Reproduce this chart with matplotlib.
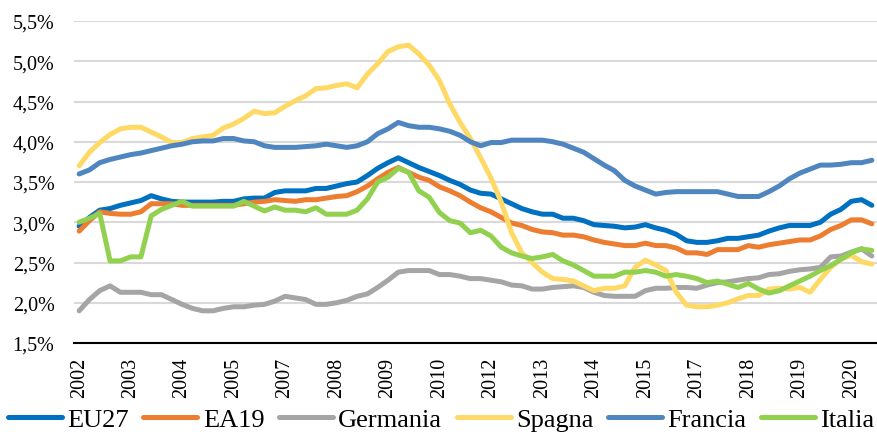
import matplotlib
matplotlib.use("Agg")
import matplotlib.pyplot as plt

plt.rcParams['font.family'] = ['Liberation Serif', 'DejaVu Serif']

# trimestrale 2002Q1 - 2021Q2
eu27 = [2.95, 3.06, 3.15, 3.17, 3.21, 3.24, 3.27, 3.33, 3.29, 3.26, 3.25, 3.25, 3.25, 3.25, 3.26, 3.26, 3.29, 3.30, 3.30, 3.37,
        3.39, 3.39, 3.39, 3.42, 3.42, 3.45, 3.48, 3.50, 3.58, 3.67, 3.74, 3.80, 3.74, 3.68, 3.63, 3.58, 3.52, 3.47, 3.40, 3.36,
        3.35, 3.29, 3.23, 3.17, 3.13, 3.10, 3.10, 3.05, 3.05, 3.02, 2.97, 2.96, 2.95, 2.93, 2.94, 2.97, 2.93, 2.90, 2.85, 2.77,
        2.75, 2.75, 2.77, 2.80, 2.80, 2.82, 2.84, 2.89, 2.93, 2.96, 2.96, 2.96, 3.00, 3.10, 3.16, 3.26, 3.28, 3.21]
ea19 = [2.89, 3.02, 3.13, 3.11, 3.10, 3.10, 3.13, 3.23, 3.23, 3.23, 3.21, 3.21, 3.21, 3.21, 3.21, 3.21, 3.23, 3.25, 3.26, 3.28,
        3.27, 3.26, 3.28, 3.28, 3.30, 3.32, 3.33, 3.38, 3.45, 3.54, 3.62, 3.68, 3.62, 3.56, 3.52, 3.44, 3.39, 3.33, 3.25, 3.18,
        3.13, 3.06, 2.99, 2.96, 2.91, 2.88, 2.87, 2.84, 2.84, 2.82, 2.78, 2.75, 2.73, 2.71, 2.71, 2.74, 2.71, 2.71, 2.68, 2.62,
        2.62, 2.60, 2.66, 2.66, 2.66, 2.71, 2.69, 2.72, 2.74, 2.76, 2.78, 2.78, 2.83, 2.91, 2.96, 3.03, 3.03, 2.98]
germania = [1.90, 2.04, 2.15, 2.21, 2.13, 2.13, 2.13, 2.10, 2.10, 2.04, 1.98, 1.93, 1.90, 1.90, 1.93, 1.95, 1.95, 1.97, 1.98, 2.02,
            2.08, 2.06, 2.04, 1.98, 1.98, 2.00, 2.03, 2.08, 2.11, 2.19, 2.28, 2.38, 2.40, 2.40, 2.40, 2.35, 2.35, 2.33, 2.30, 2.30,
            2.28, 2.26, 2.22, 2.21, 2.17, 2.17, 2.19, 2.20, 2.21, 2.19, 2.13, 2.09, 2.08, 2.08, 2.08, 2.15, 2.18, 2.18, 2.19, 2.19,
            2.18, 2.22, 2.25, 2.26, 2.28, 2.30, 2.31, 2.35, 2.36, 2.39, 2.41, 2.42, 2.44, 2.57, 2.58, 2.63, 2.67, 2.58]
spagna = [3.70, 3.87, 3.99, 4.09, 4.16, 4.18, 4.18, 4.12, 4.06, 3.99, 3.99, 4.04, 4.06, 4.08, 4.17, 4.22, 4.29, 4.38, 4.35, 4.36,
          4.44, 4.51, 4.57, 4.66, 4.67, 4.70, 4.72, 4.67, 4.84, 4.97, 5.12, 5.18, 5.20, 5.09, 4.95, 4.76, 4.47, 4.24, 4.04, 3.80,
          3.55, 3.25, 2.87, 2.62, 2.50, 2.38, 2.30, 2.29, 2.27, 2.21, 2.15, 2.18, 2.18, 2.21, 2.44, 2.53, 2.47, 2.40, 2.13, 1.97,
          1.95, 1.95, 1.97, 2.00, 2.05, 2.09, 2.09, 2.17, 2.18, 2.17, 2.19, 2.13, 2.29, 2.44, 2.54, 2.59, 2.51, 2.48]
francia = [3.60, 3.65, 3.74, 3.78, 3.81, 3.84, 3.86, 3.89, 3.92, 3.95, 3.97, 4.00, 4.01, 4.01, 4.04, 4.04, 4.01, 4.00, 3.95, 3.93,
           3.93, 3.93, 3.94, 3.95, 3.97, 3.95, 3.93, 3.95, 4.00, 4.10, 4.16, 4.24, 4.20, 4.18, 4.18, 4.16, 4.13, 4.08, 4.00, 3.95,
           3.99, 3.99, 4.02, 4.02, 4.02, 4.02, 4.00, 3.97, 3.92, 3.87, 3.79, 3.71, 3.64, 3.52, 3.45, 3.40, 3.35, 3.37, 3.38, 3.38,
           3.38, 3.38, 3.38, 3.35, 3.32, 3.32, 3.32, 3.38, 3.45, 3.54, 3.61, 3.66, 3.71, 3.71, 3.72, 3.74, 3.74, 3.77]
italia = [3.00, 3.05, 3.11, 2.52, 2.52, 2.57, 2.57, 3.08, 3.16, 3.21, 3.26, 3.20, 3.20, 3.20, 3.20, 3.20, 3.26, 3.20, 3.14, 3.19,
          3.15, 3.15, 3.13, 3.18, 3.10, 3.10, 3.10, 3.15, 3.29, 3.50, 3.56, 3.67, 3.62, 3.39, 3.31, 3.12, 3.02, 2.99, 2.87, 2.90,
          2.83, 2.69, 2.62, 2.58, 2.55, 2.57, 2.60, 2.52, 2.47, 2.40, 2.33, 2.33, 2.33, 2.38, 2.38, 2.40, 2.38, 2.33, 2.35, 2.33,
          2.30, 2.25, 2.27, 2.23, 2.19, 2.24, 2.17, 2.12, 2.15, 2.21, 2.27, 2.33, 2.40, 2.46, 2.54, 2.62, 2.67, 2.65]

serie = ["EU27", "EA19", "Germania", "Spagna", "Francia", "Italia"]
colori = ["#0070C0", "#ED7D31", "#A5A5A5", "#FFD966", "#4F86BF", "#92D050"]
anni = ["2002", "2003", "2004", "2005", "2007", "2008", "2009", "2010",
        "2012", "2013", "2014", "2015", "2017", "2018", "2019", "2020"]

fig = plt.figure(figsize=(8.77, 4.35), dpi=100)
ax = fig.add_axes([74/877, 1-344/435, 1-74/877, (344-22)/435])

x = list(range(len(eu27)))
for nome, dati, col in zip(serie, [eu27, ea19, germania, spagna, francia, italia], colori):
    ax.plot(x, dati, color=col, lw=3.6, label=nome, solid_joinstyle="round", solid_capstyle="round")

ax.set_xlim(-0.5, len(eu27) - 0.5)
ax.set_ylim(1.5, 5.5)
yt = [1.5 + 0.5*k for k in range(9)]
ax.set_yticks(yt)
ax.set_yticklabels([f"{v:.1f}%".replace(".", ",") for v in yt], fontsize=14.5)
ax.set_xticks(list(range(0, len(anni)*5, 5)))
ax.set_xticklabels(anni, rotation=90, fontsize=14.5)
ax.tick_params(axis="y", length=0, pad=14)
ax.tick_params(axis="x", length=0, pad=10)
ax.grid(axis="y", color="#D9D9D9", lw=1.5)
ax.set_axisbelow(True)
for s in ["top", "right", "left"]:
    ax.spines[s].set_visible(False)
ax.spines["bottom"].set_linewidth(1.5)
ax.spines["bottom"].set_zorder(1)

fig.legend(loc="center", bbox_to_anchor=(0.503, 0.033), ncol=6, frameon=False, fontsize=19,
           handlelength=2.05, handletextpad=0.2, columnspacing=0.55, borderpad=0)

fig.savefig("out.png", dpi=100)
